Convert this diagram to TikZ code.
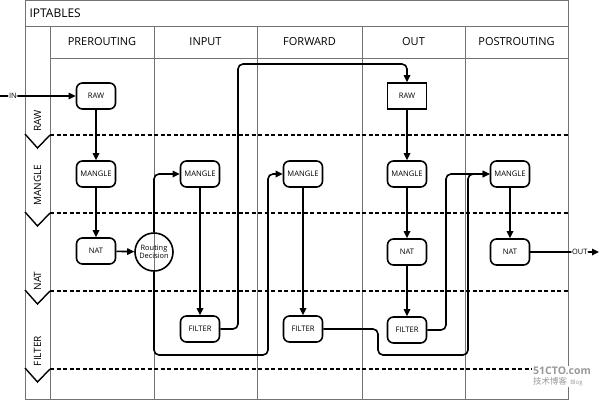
\documentclass[tikz,border=0pt]{standalone}
\usepackage{fontspec}
\setmainfont{Open Sans}
\newfontfamily\cjk{Noto Sans CJK SC}
\usepackage{tikz}
\usetikzlibrary{arrows.meta, calc, positioning, shapes.geometric}

\begin{document}
\begin{tikzpicture}[x=1pt, y=-1pt, >={Triangle[length=7pt, width=6.5pt]},
  grid/.style={draw=black!55, line width=0.8pt},
  lanesep/.style={draw, line width=1.5pt, dash pattern=on 4pt off 2.5pt},
  stage/.style={draw, line width=1.6pt, rounded corners=6pt, minimum width=39pt,
    minimum height=26pt, inner sep=1pt, font=\fontsize{7.6}{9}\selectfont},
  decision/.style={draw, circle, line width=1.6pt, minimum size=38pt, inner sep=0pt,
    align=center, font=\fontsize{7.4}{8.4}\selectfont},
  flow/.style={->, line width=1.6pt, rounded corners=5pt},
  tag/.style={fill=white, inner sep=0.8pt, font=\fontsize{7.4}{8}\selectfont},
  head/.style={font=\fontsize{11}{13}\selectfont},
  lanename/.style={rotate=90, font=\fontsize{10}{12}\selectfont}]
\useasboundingbox (0,0) rectangle (600,400);

% frame and columns
\draw[grid] (25,0) rectangle (568,399);
\draw[grid] (25,26) -- (568,26);
\draw[grid] (50,58) -- (568,58);
\foreach \x in {50,154,257,362,465}
  \draw[grid] (\x,26) -- (\x,399);
\node (Title) [anchor=west, font=\fontsize{12}{14}\selectfont] at (26,13) {IPTABLES};
\node (HPre) [head] at (102,42) {PREROUTING};
\node (HIn) [head] at (205.5,42) {INPUT};
\node (HFwd) [head] at (309.5,42) {FORWARD};
\node (HOut) [head] at (413.5,42) {OUT};
\node (HPost) [head] at (516.5,42) {POSTROUTING};

% lanes
\foreach \y in {135,213,291,369} {
  \draw[lanesep] (50,\y) -- (568,\y);
  \draw[line width=1.4pt] (25,\y-1) -- (37.5,\y+13) -- (50,\y);
}
\node (LRaw) [lanename] at (37.5,121) {RAW};
\node (LMangle) [lanename] at (37.5,185) {MANGLE};
\node (LNat) [lanename] at (37.5,281) {NAT};
\node (LFilter) [lanename] at (37.5,351) {FILTER};

% tables
\node (PreRaw) [stage] at (96,96) {RAW};
\node (PreMangle) [stage] at (96,174) {MANGLE};
\node (PreNat) [stage] at (96,251) {NAT};
\node (Route) [decision] at (154,252) {Routing\\Decision};
\node (InMangle) [stage] at (200,174) {MANGLE};
\node (InFilter) [stage] at (200,329) {FILTER};
\node (FwdMangle) [stage] at (303,174) {MANGLE};
\node (FwdFilter) [stage] at (303,329) {FILTER};
\node (OutRaw) [stage, rounded corners=0pt] at (407,96) {RAW};
\node (OutMangle) [stage] at (407,174) {MANGLE};
\node (OutNat) [stage] at (407,252) {NAT};
\node (OutFilter) [stage] at (407,330) {FILTER};
\node (PostMangle) [stage] at (510,174) {MANGLE};
\node (PostNat) [stage] at (510,252) {NAT};
\coordinate (InSrc) at (0,96);
\coordinate (OutDst) at (599,252);

% packet paths
\draw[flow] (InSrc) -- node[tag, pos=0.17] {IN} (PreRaw);
\draw[flow] (PreRaw) -- (PreMangle);
\draw[flow] (PreMangle) -- (PreNat);
\draw[flow] (PreNat) -- (Route);
\draw[flow] (Route.north) |- (InMangle.west);
\draw[flow] (Route.south) |- (268,355) |- (FwdMangle.west);
\draw[flow] (InMangle) -- (InFilter);
\draw[flow] (InFilter.east) -| (238,64) -| (OutRaw.north);
\draw[flow] (FwdMangle) -- (FwdFilter);
\draw[flow] (FwdFilter.east) -| (378,355) -| (468,174) -- (PostMangle.west);
\draw[flow] (OutRaw) -- (OutMangle);
\draw[flow] (OutMangle) -- (OutNat);
\draw[flow] (OutNat) -- (OutFilter);
\draw[flow] (OutFilter.east) -| (446,174) -- (PostMangle.west);
\draw[flow] (PostMangle) -- (PostNat);
\draw[flow] (PostNat) -- node[tag, pos=0.72] {OUT} (OutDst);

% watermark
\node (Mark) [fill=white, text=black!40, anchor=north west, inner sep=1pt,
  font=\fontsize{10.5}{11}\bfseries] at (532,366) {51CTO.com};
\node (MarkSub) [fill=white, text=black!40, anchor=north west, inner sep=1pt,
  font=\fontsize{6}{7}\selectfont] at (Mark.south west)
  {{\cjk\fontsize{8.5}{9}\selectfont 技术博客}\ \ Blog};
\end{tikzpicture}
\end{document}
